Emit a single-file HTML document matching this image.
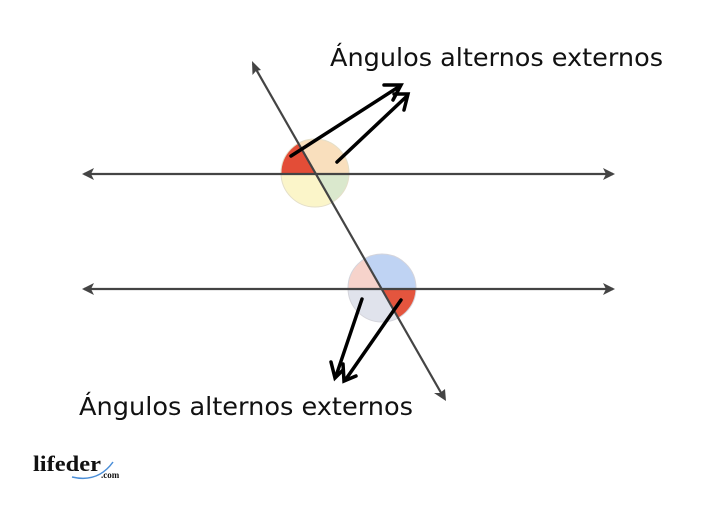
<!DOCTYPE html>
<html><head><style>html,body{margin:0;padding:0;background:#fff;}svg{display:block}</style></head>
<body>
<svg width="724" height="506" viewBox="0 0 724 506" xmlns="http://www.w3.org/2000/svg">
<rect width="724" height="506" fill="#fff"/>
<g opacity="0.9">
<path d="M315,173 L281,173 A34,34 0 0 1 298.1,143.5 Z" fill="#e03a22"/>
<path d="M315,173 L298.1,143.5 A34,34 0 0 1 349,173 Z" fill="#f9dcb6"/>
<path d="M315,173 L349,173 A34,34 0 0 1 331.9,202.5 Z" fill="#d6e6c8"/>
<path d="M315,173 L331.9,202.5 A34,34 0 0 1 281,173 Z" fill="#fbf4c4"/>
<circle cx="315" cy="173" r="34" fill="none" stroke="#e2dcc4" stroke-width="1"/>
<path d="M382,288 L348,288 A34,34 0 0 1 365.1,258.5 Z" fill="#f6cfc6"/>
<path d="M382,288 L365.1,258.5 A34,34 0 0 1 416,288 Z" fill="#b9cff2"/>
<path d="M382,288 L416,288 A34,34 0 0 1 398.9,317.5 Z" fill="#e2432a"/>
<path d="M382,288 L398.9,317.5 A34,34 0 0 1 348,288 Z" fill="#dde1ea"/>
<circle cx="382" cy="288" r="34" fill="none" stroke="#d0d0d8" stroke-width="1"/>
</g>
<g stroke="#444" stroke-width="2.2" fill="none">
<line x1="84" y1="174" x2="613" y2="174"/>
<line x1="84" y1="289" x2="613" y2="289"/>
<line x1="253" y1="64" x2="444" y2="398"/>
</g>
<g fill="#444">
<polygon points="82,174 94,168 91,174 94,180"/>
<polygon points="615,174 603,168 606,174 603,180"/>
<polygon points="82,289 94,283 91,289 94,295"/>
<polygon points="615,289 603,283 606,289 603,295"/>
<polygon points="252,61 252.5,75 256,71 261,70"/>
<polygon points="446,401 434,393 440,393 445,389"/>
</g>
<g stroke="#000" stroke-width="3.5" fill="none" stroke-linejoin="miter" stroke-linecap="round">
<line x1="291" y1="156" x2="400" y2="86"/>
<polyline points="384,85 401,85 393,100"/>
<line x1="337" y1="162" x2="407" y2="96"/>
<polyline points="394,94 408,94 404,110"/>
<line x1="362" y1="299" x2="336" y2="376"/>
<polyline points="331,362 335,378 343,370"/>
<line x1="401" y1="300" x2="346" y2="379"/>
<polyline points="343,364 344,381 356,376"/>
</g>
<g font-family="'DejaVu Sans', sans-serif" font-size="25" fill="#111">
<text x="330" y="66" textLength="333" lengthAdjust="spacingAndGlyphs">Ángulos alternos externos</text>
<text x="79" y="415" textLength="334" lengthAdjust="spacingAndGlyphs">Ángulos alternos externos</text>
</g>
<text x="33" y="471" font-family="'Liberation Serif', serif" font-weight="bold" font-size="22" fill="#111" textLength="68" lengthAdjust="spacingAndGlyphs">lifeder</text>
<text x="101" y="478" font-family="'Liberation Serif', serif" font-weight="bold" font-size="9" fill="#111">.com</text>
<path d="M72,477 Q98,483 113,462" stroke="#4a8ed8" stroke-width="1.5" fill="none"/>
</svg>
</body></html>
